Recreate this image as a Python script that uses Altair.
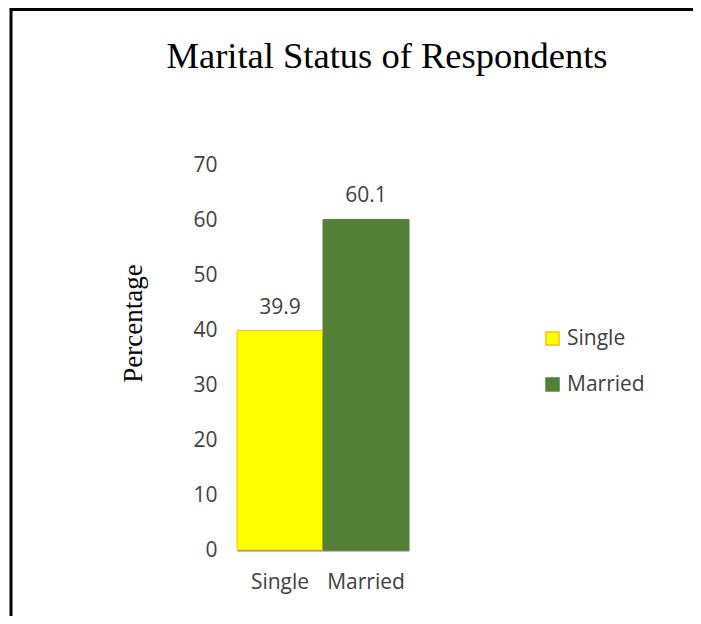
import altair as alt
import pandas as pd

# ---- data ----
categories = ["Single", "Married"]
values = [39.9, 60.1]
value_labels = ["39.9", "60.1"]
bar_colors = ["#FFFF00", "#538135"]
bar_strokes = ["#FFC000", "#538135"]
y_ticks = [0, 10, 20, 30, 40, 50, 60, 70]
chart_title = "Marital Status of Respondents"
y_title = "Percentage"

df = pd.DataFrame({"Status": categories, "Percentage": values, "Label": value_labels})

SANS = "Open Sans"
SERIF = "Liberation Serif"
TXT = "#404040"

W, H = 172, 385
PAD_L, PAD_T = 229, 157
TOTAL_W, TOTAL_H = 685, 608

x_enc = alt.X(
    "Status:N",
    sort=categories,
    scale=alt.Scale(paddingInner=0, paddingOuter=0),
    axis=alt.Axis(
        title=None, labelAngle=0, labelFont=SANS, labelFontSize=21,
        labelColor=TXT, labelPadding=38, labelBaseline="alphabetic",
        ticks=False, tickSize=0, domainColor="#808080", domainWidth=2,
    ),
)
y_enc = alt.Y(
    "Percentage:Q",
    scale=alt.Scale(domain=[0, 70]),
    axis=alt.Axis(
        values=y_ticks, grid=False, domain=False, ticks=False, tickSize=0,
        labelFont=SANS, labelFontSize=21, labelColor=TXT, labelPadding=20,
        title=y_title, titleFont=SERIF, titleFontSize=27, titleFontWeight="normal",
        titleColor="#000000", titleAngle=270, titleX=-104, titleY=158,
        titleAlign="center", titleBaseline="middle",
    ),
)

legend = alt.Legend(
    title=None, orient="none", legendX=305, legendY=163,
    symbolType="square", symbolSize=169, symbolStrokeWidth=1.5,
    labelFont=SANS, labelFontSize=21, labelColor=TXT, labelOffset=4,
    rowPadding=24,
)

bars = alt.Chart(df).mark_bar(strokeWidth=1).encode(
    x=x_enc,
    y=y_enc,
    color=alt.Color("Status:N", sort=categories,
                    scale=alt.Scale(domain=categories, range=bar_colors), legend=legend),
    stroke=alt.Stroke("Status:N", sort=categories,
                      scale=alt.Scale(domain=categories, range=bar_strokes), legend=legend),
)

labels = alt.Chart(df).mark_text(
    font=SANS, fontSize=21, color=TXT, baseline="alphabetic", dy=-17
).encode(x=alt.X("Status:N", sort=categories), y="Percentage:Q", text="Label:N")

title_df = pd.DataFrame({"t": [chart_title]})
title = alt.Chart(title_df).mark_text(
    font=SERIF, fontSize=36.5, color="#000000", align="center", baseline="alphabetic"
).encode(x=alt.value(150), y=alt.value(-97), text="t:N")

frame_df = pd.DataFrame({"a": [0]})
top_line = alt.Chart(frame_df).mark_rule(color="#000000", strokeWidth=3).encode(
    x=alt.value(-227), x2=alt.value(TOTAL_W - PAD_L), y=alt.value(-155.5)
)
left_line = alt.Chart(frame_df).mark_rule(color="#000000", strokeWidth=3).encode(
    x=alt.value(-226), y=alt.value(-157), y2=alt.value(TOTAL_H - PAD_T)
)

chart = alt.layer(bars, labels, title, top_line, left_line).properties(
    width=W, height=H,
    autosize=alt.AutoSizeParams(type="none"),
    padding={"left": PAD_L, "top": PAD_T, "right": TOTAL_W - PAD_L - W, "bottom": TOTAL_H - PAD_T - H},
).configure(background="#FFFFFF").configure_view(stroke=None, strokeWidth=0)

chart.save("out.html", embed_options={"renderer": "svg", "actions": False})
